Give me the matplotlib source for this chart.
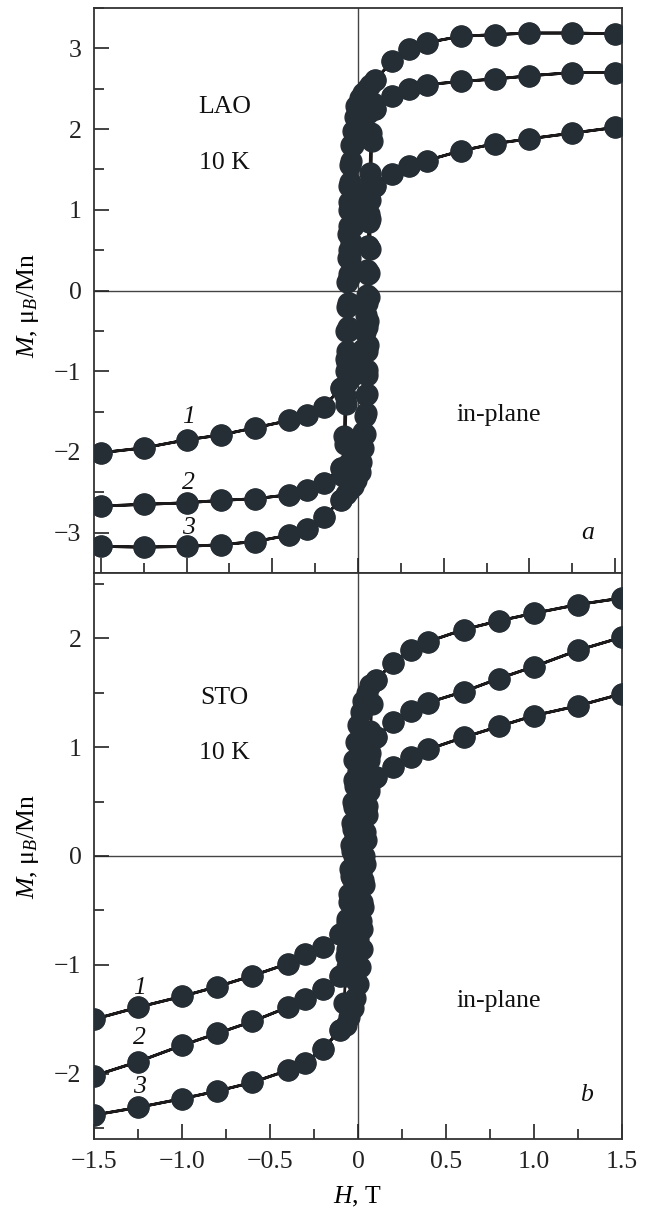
import matplotlib
matplotlib.use("Agg")
import matplotlib.pyplot as plt
from matplotlib.ticker import MultipleLocator

plt.rcParams['font.family'] = ['Liberation Serif', 'DejaVu Serif']
plt.rcParams['mathtext.fontset'] = 'custom'
plt.rcParams['mathtext.rm'] = 'Liberation Serif'
plt.rcParams['mathtext.it'] = 'Liberation Serif:italic'

# ---------------- data ----------------
H_pos = [1.5, 1.25, 1.0, 0.8, 0.6, 0.4, 0.3, 0.2, 0.1]
H_neg = [-1.5, -1.25, -1.0, -0.8, -0.6, -0.4, -0.3, -0.2, -0.1]

# LAO (panel a)
lao1_pos = [2.02, 1.95, 1.88, 1.82, 1.73, 1.61, 1.54, 1.44, 1.30]
lao1_neg = [-2.01, -1.95, -1.85, -1.79, -1.70, -1.61, -1.54, -1.44, -1.21]
lao2_pos = [2.70, 2.70, 2.66, 2.62, 2.59, 2.55, 2.50, 2.41, 2.25]
lao2_neg = [-2.67, -2.65, -2.63, -2.60, -2.58, -2.53, -2.47, -2.38, -2.20]
lao3_pos = [3.18, 3.19, 3.19, 3.17, 3.15, 3.07, 2.99, 2.84, 2.61]
lao3_neg = [-3.17, -3.18, -3.17, -3.15, -3.11, -3.03, -2.96, -2.81, -2.59]

lao1_dH = [0.06, 0.03, 0.0, -0.02, -0.03, -0.04, -0.045, -0.05, -0.055, -0.06, -0.065, -0.07]
lao1_dM = [1.22, 1.15, 1.05, 0.95, 0.8, 0.6, 0.4, 0.15, -0.15, -0.45, -0.75, -1.0]
lao1_aH = [-0.06, -0.03, 0.0, 0.02, 0.03, 0.04, 0.045, 0.05, 0.055, 0.06, 0.065, 0.07]
lao1_aM = [-1.12, -1.05, -0.97, -0.88, -0.72, -0.52, -0.3, -0.05, 0.25, 0.55, 0.85, 1.12]

lao2_dH = [0.06, 0.03, 0.0, -0.02, -0.03, -0.04, -0.045, -0.05, -0.05, -0.055, -0.055, -0.06, -0.06, -0.065, -0.07, -0.075]
lao2_dM = [2.2, 2.15, 2.07, 1.95, 1.8, 1.6, 1.35, 1.1, 0.8, 0.5, 0.2, -0.15, -0.5, -0.9, -1.4, -1.9]
lao2_aH = [-0.06, -0.03, 0.0, 0.02, 0.03, 0.04, 0.045, 0.05, 0.05, 0.055, 0.055, 0.06, 0.06, 0.065, 0.07, 0.075]
lao2_aM = [-2.15, -2.1, -2.02, -1.9, -1.75, -1.55, -1.3, -1.05, -0.75, -0.45, -0.15, 0.2, 0.55, 0.95, 1.45, 1.95]

lao3_dH = [0.07, 0.05, 0.03, 0.01, -0.01, -0.02, -0.03, -0.04, -0.045, -0.05, -0.055, -0.06, -0.06, -0.065,
           -0.065, -0.07, -0.07, -0.075, -0.08, -0.085]
lao3_dM = [2.55, 2.5, 2.45, 2.38, 2.28, 2.15, 1.98, 1.8, 1.55, 1.3, 1.0, 0.7, 0.4, 0.1,
           -0.2, -0.5, -0.85, -1.3, -1.8, -2.3]
lao3_aH = [-0.07, -0.05, -0.03, -0.01, 0.01, 0.02, 0.03, 0.04, 0.045, 0.05, 0.055, 0.06, 0.06, 0.065,
           0.065, 0.07, 0.07, 0.075, 0.08, 0.085]
lao3_aM = [-2.52, -2.47, -2.42, -2.35, -2.25, -2.12, -1.95, -1.78, -1.52, -1.28, -0.98, -0.68, -0.38, -0.08,
           0.22, 0.52, 0.88, 1.35, 1.85, 2.32]

# STO (panel b)
sto1_pos = [1.49, 1.38, 1.29, 1.19, 1.09, 0.98, 0.91, 0.82, 0.73]
sto1_neg = [-1.50, -1.39, -1.29, -1.20, -1.10, -0.99, -0.90, -0.84, -0.72]
sto2_pos = [2.01, 1.89, 1.74, 1.63, 1.51, 1.41, 1.33, 1.23, 1.09]
sto2_neg = [-2.02, -1.89, -1.74, -1.63, -1.52, -1.39, -1.31, -1.22, -1.10]
sto3_pos = [2.37, 2.31, 2.23, 2.16, 2.08, 1.97, 1.89, 1.77, 1.62]
sto3_neg = [-2.38, -2.31, -2.23, -2.16, -2.08, -1.97, -1.90, -1.77, -1.60]

sto1_dH = [0.06, 0.035, 0.015, 0.0, -0.015, -0.025, -0.035, -0.045, -0.06]
sto1_dM = [0.64, 0.55, 0.45, 0.33, 0.18, 0.0, -0.2, -0.4, -0.58]
sto1_aH = [-0.06, -0.035, -0.015, 0.0, 0.015, 0.025, 0.035, 0.045, 0.06]
sto1_aM = [-0.62, -0.53, -0.43, -0.3, -0.15, 0.03, 0.22, 0.42, 0.6]

sto2_dH = [0.06, 0.04, 0.02, 0.0, -0.015, -0.025, -0.03, -0.035, -0.04, -0.05, -0.06, -0.07]
sto2_dM = [1.02, 0.96, 0.88, 0.78, 0.64, 0.45, 0.25, 0.05, -0.18, -0.42, -0.68, -0.92]
sto2_aH = [-0.06, -0.04, -0.02, 0.0, 0.015, 0.025, 0.03, 0.035, 0.04, 0.05, 0.06, 0.07]
sto2_aM = [-1.02, -0.95, -0.87, -0.76, -0.6, -0.42, -0.22, 0.0, 0.22, 0.46, 0.72, 0.95]

sto3_dH = [0.07, 0.05, 0.03, 0.015, 0.0, -0.01, -0.02, -0.025, -0.03, -0.035, -0.04, -0.045, -0.05,
           -0.055, -0.06, -0.07, -0.08]
sto3_dM = [1.57, 1.5, 1.42, 1.32, 1.2, 1.05, 0.88, 0.7, 0.5, 0.3, 0.1, -0.12, -0.35,
           -0.6, -0.85, -1.1, -1.35]
sto3_aH = [-0.07, -0.05, -0.03, -0.015, 0.0, 0.01, 0.02, 0.025, 0.03, 0.035, 0.04, 0.045, 0.05,
           0.055, 0.06, 0.07, 0.08]
sto3_aM = [-1.55, -1.48, -1.4, -1.3, -1.18, -1.02, -0.85, -0.67, -0.47, -0.27, -0.07, 0.15, 0.38,
           0.62, 0.88, 1.15, 1.4]

x_ticks = [-1.5, -1.0, -0.5, 0.0, 0.5, 1.0, 1.5]
x_ticklabels = ['\u22121.5', '\u22121.0', '\u22120.5', '0', '0.5', '1.0', '1.5']
lao_yticks = [-3, -2, -1, 0, 1, 2, 3]
sto_yticks = [-2, -1, 0, 1, 2]

# ---------------- drawing ----------------
W, Hh = 648, 1209
fig = plt.figure(figsize=(W / 100, Hh / 100), dpi=100)
left = 94 / W
width = 528 / W
ax1 = fig.add_axes([left, (Hh - 573) / Hh, width, 565 / Hh])
ax2 = fig.add_axes([left, (Hh - 1139) / Hh, width, 566 / Hh])

MC = '#252d35'
LC = '#1c1a1a'
FS = 18.5


def loop(pos, neg, dH, dM, aH, aM):
    Hd = list(H_pos) + list(dH) + list(H_neg[::-1])
    Md = list(pos) + list(dM) + list(neg[::-1])
    Ha = list(H_neg) + list(aH) + list(H_pos[::-1])
    Ma = list(neg) + list(aM) + list(pos[::-1])
    return Hd + Ha, Md + Ma


def draw(ax, curves):
    ax.axhline(0, color='#444444', lw=1.0, zorder=1)
    ax.axvline(0, color='#444444', lw=1.0, zorder=1)
    for c in curves:
        h, m = loop(*c)
        ax.plot(h, m, '-', color=LC, lw=2.0, zorder=2)
        ax.plot(h, m, 'o', ms=15, color=MC, mec=MC, zorder=3)


draw(ax1, [
    (lao1_pos, lao1_neg, lao1_dH, lao1_dM, lao1_aH, lao1_aM),
    (lao2_pos, lao2_neg, lao2_dH, lao2_dM, lao2_aH, lao2_aM),
    (lao3_pos, lao3_neg, lao3_dH, lao3_dM, lao3_aH, lao3_aM),
])
draw(ax2, [
    (sto1_pos, sto1_neg, sto1_dH, sto1_dM, sto1_aH, sto1_aM),
    (sto2_pos, sto2_neg, sto2_dH, sto2_dM, sto2_aH, sto2_aM),
    (sto3_pos, sto3_neg, sto3_dH, sto3_dM, sto3_aH, sto3_aM),
])

ax1.set_xlim(-1.54, 1.54)
ax1.set_ylim(-3.5, 3.5)
ax2.set_xlim(-1.5, 1.5)
ax2.set_ylim(-2.6, 2.6)

for ax, yt in ((ax1, lao_yticks), (ax2, sto_yticks)):
    ax.set_xticks(x_ticks)
    ax.xaxis.set_minor_locator(MultipleLocator(0.25))
    ax.set_yticks(yt)
    ax.set_yticklabels([('\u2212%d' % -v) if v < 0 else '%d' % v for v in yt])
    ax.yaxis.set_minor_locator(MultipleLocator(0.5))
    ax.tick_params(which='both', direction='in', top=False, right=False,
                   labelsize=FS, colors='#222222', width=1.2)
    ax.tick_params(which='major', length=11, pad=9)
    ax.tick_params(which='minor', length=7)
    for s in ax.spines.values():
        s.set_linewidth(1.3)
        s.set_color('#333333')

ax1.tick_params(axis='x', which='both', labelbottom=False)
ax2.set_xticklabels(x_ticklabels)

ylab = '$M$, \u03bc$_{B}$/Mn'
ax1.set_ylabel(ylab, fontsize=FS)
ax2.set_ylabel(ylab, fontsize=FS)
ax1.yaxis.set_label_coords(-0.10, 0.474)
ax2.yaxis.set_label_coords(-0.10, 0.517)
ax2.set_xlabel('$H$, T', fontsize=FS, labelpad=8)

tk = dict(fontsize=FS, ha='center', va='center', color='#111111')
ax1.text(-0.78, 2.27, 'LAO', **tk)
ax1.text(-0.78, 1.58, '10 K', **tk)
ax1.text(0.82, -1.54, 'in-plane', **tk)
ax1.text(1.34, -3.0, 'a', style='italic', **tk)
ax1.text(-0.99, -1.57, '1', style='italic', **tk)
ax1.text(-0.99, -2.39, '2', style='italic', **tk)
ax1.text(-0.99, -2.94, '3', style='italic', **tk)

ax2.text(-0.76, 1.45, 'STO', **tk)
ax2.text(-0.76, 0.95, '10 K', **tk)
ax2.text(0.80, -1.33, 'in-plane', **tk)
ax2.text(1.30, -2.2, 'b', style='italic', **tk)
ax2.text(-1.24, -1.21, '1', style='italic', **tk)
ax2.text(-1.24, -1.67, '2', style='italic', **tk)
ax2.text(-1.24, -2.12, '3', style='italic', **tk)

fig.savefig('out.png', dpi=100)
